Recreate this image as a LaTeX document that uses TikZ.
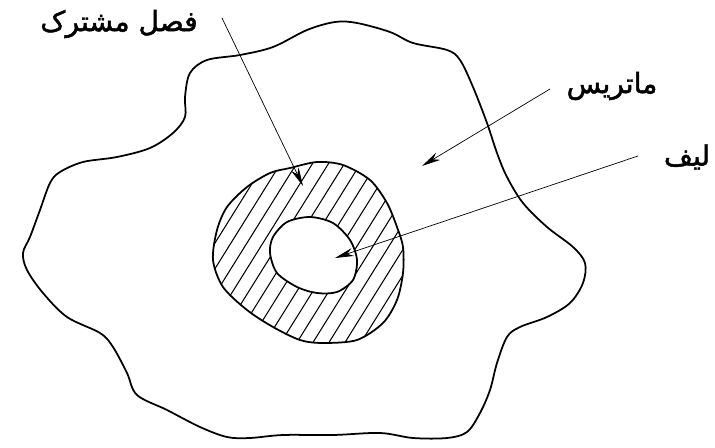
\documentclass[tikz,border=0pt]{standalone}
\usepackage{fontspec}
\newfontfamily\arabicfont[Script=Arabic,FakeBold=1.6]{DejaVu Sans}
\TeXXeTstate=1
\usetikzlibrary{arrows.meta}

\begin{document}
\begin{tikzpicture}[
	x=0.03cm,
	y=-0.03cm,
	kontur/.style={line width=1.5pt, line join=round},
	kreska/.style={line width=0.9pt},
	strzalka/.style={line width=0.6pt, -{Stealth[length=16pt,width=7pt,inset=5pt]}},
	etykieta/.style={font=\arabicfont\fontsize{24}{28}\selectfont, inner sep=0pt}
	]
	
	% Ramka
	\useasboundingbox (0,0) rectangle (715,448);
	
	% Osnowa
	\draw[
	kontur,
	smooth cycle,
	tension=0.55
	]
	plot coordinates {
		(207,60) (240,55) (273,47) (307,30) (335,22) (357,23) (390,32)
		(413,43) (447,50) (460,60) (473,87) (487,123) (497,153) (507,177)
		(523,203) (547,227) (573,247) (585,263) (583,283) (570,303)
		(547,317) (520,327) (507,337) (497,363) (490,390) (480,413)
		(467,432) (447,438) (413,438) (380,433) (333,435) (283,435)
		(250,438) (227,437) (200,427) (167,410) (137,395) (127,373)
		(113,347) (100,333) (67,317) (43,293) (27,270) (23,253) (30,237)
		(40,210) (50,183) (60,172) (83,162) (117,157) (150,148) (173,133)
		(185,117) (185,97) (190,73)
	};
	
	% Kreskowanie fazy posredniej
	\begin{scope}
		\clip plot[smooth cycle] coordinates {
			(270,173) (290,168) (317,162) (343,165) (370,180) (387,203)
			(397,227) (403,247) (403,273) (397,300) (383,323) (357,340)
			(323,343) (300,340) (273,327) (247,310) (223,287) (213,260)
			(217,230) (227,207) (247,187)
		};
		\foreach \k in {0,...,17}
		\draw[kreska] (142+16*\k,360) -- ++(131,-210);
	\end{scope}
	
	% Wlokno
	\fill[white] plot[smooth cycle] coordinates {
		(287,222) (310,217) (333,223) (350,240) (357,260) (353,280)
		(337,292) (317,293) (297,287) (277,273) (270,253) (273,237)
	};
	
	% Kontury pierscienia i wlokna
	\draw[kontur] plot[smooth cycle] coordinates {
		(270,173) (290,168) (317,162) (343,165) (370,180) (387,203)
		(397,227) (403,247) (403,273) (397,300) (383,323) (357,340)
		(323,343) (300,340) (273,327) (247,310) (223,287) (213,260)
		(217,230) (227,207) (247,187)
	};
	\draw[kontur] plot[smooth cycle] coordinates {
		(287,222) (310,217) (333,223) (350,240) (357,260) (353,280)
		(337,292) (317,293) (297,287) (277,273) (270,253) (273,237)
	};
	
	% Etykiety
	\node[etykieta] (faza) at (119,24) {\beginR فصل مشترک\endR};
	\node[etykieta] (osnowa) at (612,86) {\beginR ماتریس\endR};
	\node[etykieta] (wlokno) at (687,157) {\beginR لیف\endR};
	
	% Punkty strzalek
	\coordinate (faza-od) at (222,18);
	\coordinate (faza-do) at (303,186);
	\coordinate (osnowa-od) at (550,89);
	\coordinate (osnowa-do) at (422,166);
	\coordinate (wlokno-od) at (638,156);
	\coordinate (wlokno-do) at (335,258);
	
	% Strzalki
	\draw[strzalka] (faza-od) -- (faza-do);
	\draw[strzalka] (osnowa-od) -- (osnowa-do);
	\draw[strzalka] (wlokno-od) -- (wlokno-do);
	
\end{tikzpicture}
\end{document}
